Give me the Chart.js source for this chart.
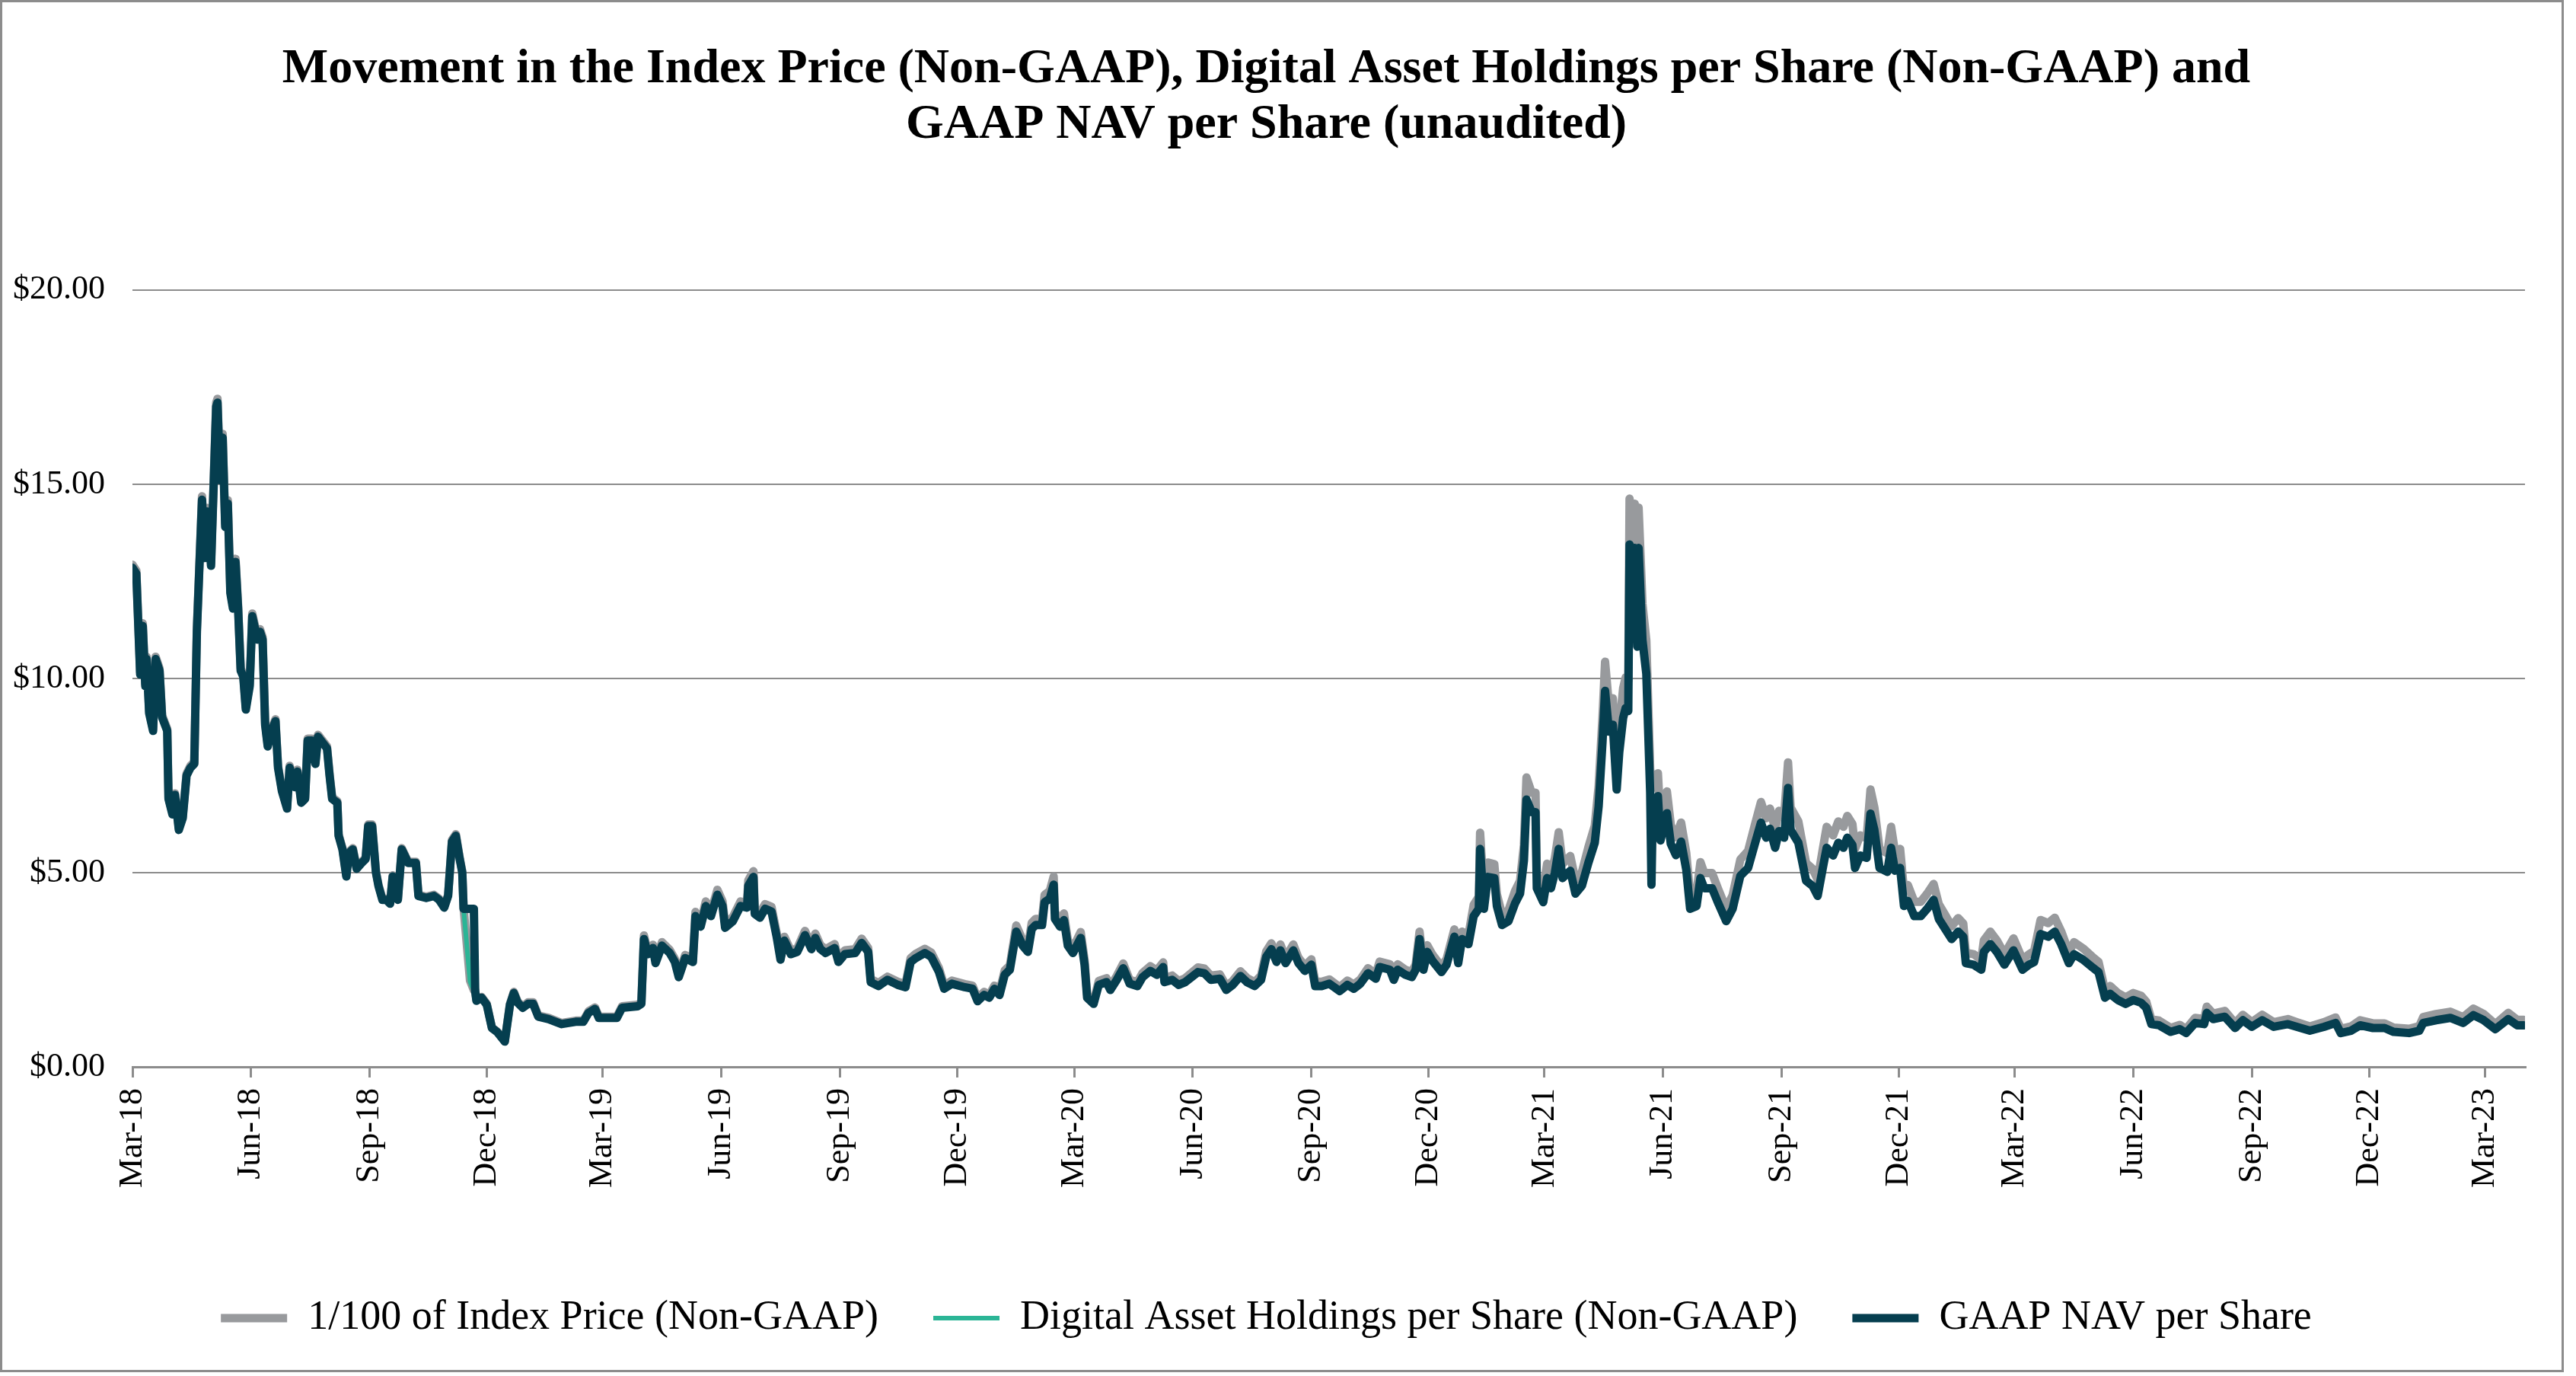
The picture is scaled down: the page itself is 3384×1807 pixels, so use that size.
<!DOCTYPE html>
<html lang="en">
<head>
<meta charset="utf-8">
<title>Movement in the Index Price, Digital Asset Holdings per Share and GAAP NAV per Share</title>
<script src="https://cdn.jsdelivr.net/npm/chart.js@4.4.1/dist/chart.umd.min.js"></script>
<style>
  html, body { margin: 0; padding: 0; background: #fff; }
  #contenedor { position: relative; width: 3384px; height: 1807px; }
  #marco {
    position: absolute; left: 0; top: 0;
    width: 3368px; height: 1802px; box-sizing: border-box;
    border: 3px solid #8c8c8c; pointer-events: none;
  }
</style>
</head>
<body>
<div id="contenedor">
  <canvas id="graficoNav"></canvas>
  <div id="marco"></div>
</div>
<script>
// Etiquetas del eje X (una por trimestre)
const etiquetasTrimestre = ['Mar-18', 'Jun-18', 'Sep-18', 'Dec-18', 'Mar-19', 'Jun-19', 'Sep-19', 'Dec-19',
    'Mar-20', 'Jun-20', 'Sep-20', 'Dec-20', 'Mar-21', 'Jun-21', 'Sep-21', 'Dec-21',
    'Mar-22', 'Jun-22', 'Sep-22', 'Dec-22', 'Mar-23'];
const fechasTrimestre = ['2018-03-01', '2018-06-01', '2018-09-01', '2018-12-01', '2019-03-01', '2019-06-01',
    '2019-09-01', '2019-12-01', '2020-03-01', '2020-06-01', '2020-09-01', '2020-12-01', '2021-03-01',
    '2021-06-01', '2021-09-01', '2021-12-01', '2022-03-01', '2022-06-01', '2022-09-01', '2022-12-01', '2023-03-01'];
const fechaFinEje = '2023-04-01';

// Fechas de las observaciones
const fechas = [
    // 2018
    '2018-03-01','2018-03-04','2018-03-07','2018-03-09','2018-03-11','2018-03-12','2018-03-14','2018-03-17','2018-03-19','2018-03-22',
    '2018-03-24','2018-03-28','2018-03-29','2018-04-01','2018-04-03','2018-04-06','2018-04-09','2018-04-12','2018-04-15','2018-04-18',
    '2018-04-20','2018-04-24','2018-04-26','2018-04-28','2018-05-01','2018-05-05','2018-05-06','2018-05-08','2018-05-10','2018-05-12',
    '2018-05-14','2018-05-16','2018-05-18','2018-05-20','2018-05-22','2018-05-24','2018-05-26','2018-05-28','2018-05-31','2018-06-02',
    '2018-06-06','2018-06-08','2018-06-10','2018-06-12','2018-06-14','2018-06-17','2018-06-20','2018-06-22','2018-06-25','2018-06-29',
    '2018-07-01','2018-07-05','2018-07-07','2018-07-10','2018-07-13','2018-07-15','2018-07-18','2018-07-21','2018-07-23','2018-07-30',
    '2018-08-01','2018-08-03','2018-08-07','2018-08-08','2018-08-11','2018-08-14','2018-08-16','2018-08-19','2018-08-22','2018-08-26',
    '2018-08-29','2018-08-31','2018-09-03','2018-09-06','2018-09-08','2018-09-11','2018-09-14','2018-09-17','2018-09-19','2018-09-23',
    '2018-09-26','2018-10-01','2018-10-07','2018-10-09','2018-10-15','2018-10-21','2018-10-25','2018-10-29','2018-11-01','2018-11-04',
    '2018-11-07','2018-11-10','2018-11-12','2018-11-13','2018-11-18','2018-11-21','2018-11-22','2018-11-23','2018-11-27','2018-12-01',
    '2018-12-05','2018-12-09','2018-12-15','2018-12-19','2018-12-22','2018-12-25','2018-12-29',
    // 2019
    '2019-01-02','2019-01-06','2019-01-10','2019-01-18','2019-01-28','2019-02-08','2019-02-14','2019-02-18','2019-02-23','2019-02-26',
    '2019-03-12','2019-03-16','2019-03-28','2019-03-31','2019-04-02','2019-04-05','2019-04-09','2019-04-11','2019-04-16','2019-04-22',
    '2019-04-26','2019-04-29','2019-05-04','2019-05-10','2019-05-12','2019-05-16','2019-05-20','2019-05-24','2019-05-29','2019-06-02',
    '2019-06-04','2019-06-10','2019-06-16','2019-06-21','2019-06-22','2019-06-26','2019-06-27','2019-07-01','2019-07-05','2019-07-10',
    '2019-07-14','2019-07-17','2019-07-20','2019-07-25','2019-07-30','2019-08-05','2019-08-10','2019-08-13','2019-08-17','2019-08-21',
    '2019-08-28','2019-08-31','2019-09-05','2019-09-13','2019-09-18','2019-09-23','2019-09-25','2019-10-01','2019-10-08','2019-10-16',
    '2019-10-22','2019-10-26','2019-10-30','2019-11-06','2019-11-11','2019-11-17','2019-11-21','2019-11-27','2019-12-07','2019-12-13',
    '2019-12-17','2019-12-22','2019-12-26','2019-12-30',
    // 2020
    '2020-01-03','2020-01-07','2020-01-11','2020-01-16','2020-01-21','2020-01-25','2020-01-28','2020-01-31','2020-02-05','2020-02-07',
    '2020-02-11','2020-02-14','2020-02-15','2020-02-19','2020-02-22','2020-02-25','2020-02-29','2020-03-06','2020-03-09','2020-03-11',
    '2020-03-16','2020-03-20','2020-03-26','2020-03-29','2020-04-03','2020-04-08','2020-04-13','2020-04-19','2020-04-23','2020-04-29',
    '2020-05-04','2020-05-09','2020-05-10','2020-05-16','2020-05-21','2020-05-26','2020-06-05','2020-06-10','2020-06-15','2020-06-22',
    '2020-06-27','2020-07-02','2020-07-08','2020-07-13','2020-07-19','2020-07-24','2020-07-28','2020-08-01','2020-08-05','2020-08-08',
    '2020-08-12','2020-08-18','2020-08-22','2020-08-27','2020-09-01','2020-09-04','2020-09-09','2020-09-15','2020-09-23','2020-09-29',
    '2020-10-04','2020-10-09','2020-10-15','2020-10-21','2020-10-24','2020-11-01','2020-11-04','2020-11-07','2020-11-13','2020-11-18',
    '2020-11-21','2020-11-24','2020-11-27','2020-11-30','2020-12-04','2020-12-11','2020-12-15','2020-12-21','2020-12-24','2020-12-27',
    // 2021
    '2021-01-01','2021-01-05','2021-01-09','2021-01-10','2021-01-13','2021-01-16','2021-01-21','2021-01-23','2021-01-27','2021-02-01',
    '2021-02-06','2021-02-10','2021-02-13','2021-02-15','2021-02-19','2021-02-22','2021-02-23','2021-02-28','2021-03-03','2021-03-06',
    '2021-03-09','2021-03-12','2021-03-15','2021-03-21','2021-03-25','2021-03-30','2021-04-04','2021-04-09','2021-04-12','2021-04-15',
    '2021-04-17','2021-04-20','2021-04-23','2021-04-26','2021-04-28','2021-05-01','2021-05-03','2021-05-05','2021-05-06','2021-05-09',
    '2021-05-10','2021-05-12','2021-05-13','2021-05-15','2021-05-16','2021-05-19','2021-05-22','2021-05-23','2021-05-24','2021-05-28',
    '2021-05-30','2021-06-04','2021-06-07','2021-06-11','2021-06-15','2021-06-19','2021-06-22','2021-06-27','2021-06-30','2021-07-03',
    '2021-07-09','2021-07-14','2021-07-20','2021-07-25','2021-07-31','2021-08-06','2021-08-11','2021-08-16','2021-08-20','2021-08-23',
    '2021-08-27','2021-08-30','2021-09-03','2021-09-06','2021-09-08','2021-09-14','2021-09-20','2021-09-25','2021-09-29','2021-10-03',
    '2021-10-06','2021-10-11','2021-10-15','2021-10-19','2021-10-22','2021-10-26','2021-10-28','2021-11-01','2021-11-06','2021-11-09',
    '2021-11-12','2021-11-16','2021-11-22','2021-11-25','2021-11-28','2021-12-02','2021-12-05','2021-12-08','2021-12-13','2021-12-18',
    '2021-12-23','2021-12-28',
    // 2022 - 2023
    '2022-01-01','2022-01-06','2022-01-11','2022-01-16','2022-01-20','2022-01-22','2022-01-28','2022-02-03','2022-02-05','2022-02-10',
    '2022-02-15','2022-02-21','2022-02-28','2022-03-07','2022-03-12','2022-03-16','2022-03-21','2022-03-27','2022-04-01','2022-04-06',
    '2022-04-12','2022-04-16','2022-04-23','2022-04-30','2022-05-05','2022-05-10','2022-05-14','2022-05-20','2022-05-26','2022-06-01',
    '2022-06-07','2022-06-11','2022-06-15','2022-06-21','2022-06-30','2022-07-07','2022-07-12','2022-07-19','2022-07-26','2022-07-28',
    '2022-08-02','2022-08-11','2022-08-19','2022-08-25','2022-09-01','2022-09-09','2022-09-18','2022-09-29','2022-10-06','2022-10-16',
    '2022-10-27','2022-11-05','2022-11-09','2022-11-17','2022-11-24','2022-12-04','2022-12-13','2022-12-20',
    '2023-01-01','2023-01-09','2023-01-12','2023-01-22','2023-02-02','2023-02-12','2023-02-20','2023-02-28','2023-03-09','2023-03-19',
    '2023-03-26','2023-03-31'
];

// 1/100 del precio del índice (Non-GAAP)
const indicePrecio100 = [
    // 2018
    12.93,12.78,10.16,11.42,9.86,10.56,9.15,8.7,10.56,10.26,
    9.05,8.7,6.94,6.54,7.04,6.14,6.44,7.55,7.75,7.85,
    11.27,14.69,13.18,14.39,12.98,17.1,17.2,15.19,16.3,13.98,
    14.59,12.27,11.87,13.08,11.87,10.26,10.11,9.26,9.86,11.67,
    11.07,11.27,11.07,8.85,8.3,8.7,8.95,7.75,7.14,6.69,
    7.75,7.24,7.65,6.84,6.94,8.45,8.45,7.85,8.55,8.25,
    7.55,6.94,6.84,5.99,5.63,4.93,5.53,5.63,5.13,5.28,
    5.38,6.24,6.24,5.03,4.68,4.33,4.33,4.23,4.93,4.33,
    5.63,5.28,5.28,4.43,4.38,4.43,4.33,4.12,4.43,5.84,
    5.99,5.38,5.03,4.1,2.22,1.97,1.97,1.72,1.8,1.62,
    1.01,0.91,0.66,1.62,1.93,1.68,1.55,
    // 2019
    1.66,1.66,1.32,1.26,1.13,1.19,1.19,1.43,1.53,1.29,
    1.29,1.56,1.6,1.66,3.38,2.98,3.14,2.74,3.21,3.01,
    2.78,2.38,2.88,2.78,3.99,3.71,4.26,3.99,4.56,4.26,
    3.68,3.86,4.26,4.22,4.8,5.04,4.06,3.96,4.19,4.12,
    3.45,2.84,3.35,2.99,3.05,3.5,3.13,3.43,3.13,3.03,
    3.16,2.79,3.0,3.03,3.3,3.06,2.26,2.16,2.32,2.19,
    2.13,2.8,2.91,3.04,2.94,2.54,2.09,2.22,2.13,2.09,
    1.76,1.93,1.85,2.09,
    // 2020
    1.93,2.48,2.61,3.64,3.26,3.09,3.71,3.81,3.81,4.43,
    4.53,4.9,3.98,3.77,3.95,3.26,3.06,3.47,2.75,1.86,
    1.69,2.21,2.28,2.07,2.34,2.66,2.24,2.18,2.42,2.59,
    2.48,2.69,2.28,2.35,2.21,2.28,2.56,2.53,2.35,2.38,
    2.08,2.21,2.46,2.29,2.18,2.35,2.97,3.18,2.84,3.15,
    2.81,3.15,2.81,2.6,2.77,2.19,2.19,2.25,2.05,2.22,
    2.12,2.25,2.54,2.39,2.71,2.64,2.36,2.64,2.5,2.44,
    2.64,3.48,2.64,3.13,2.89,2.58,2.78,3.54,2.82,3.48,
    // 2021
    3.4,4.17,4.38,6.03,4.38,5.26,5.22,4.45,3.92,4.03,
    4.52,4.79,5.71,7.45,7.06,7.06,4.95,4.56,5.23,4.95,
    5.37,6.04,5.23,5.43,4.8,5.01,5.65,6.21,7.23,9.02,
    10.43,9.29,9.49,7.69,8.73,9.75,10.03,9.94,14.63,13.26,
    14.5,11.74,14.4,12.78,11.92,10.98,7.66,7.3,7.18,7.56,
    6.33,7.09,6.23,5.91,6.29,5.51,4.42,4.49,5.27,4.99,
    4.99,4.56,4.07,4.42,5.34,5.56,6.2,6.82,6.4,6.65,
    6.12,6.59,6.46,7.84,6.68,6.32,5.25,5.1,4.82,5.61,
    6.18,5.96,6.32,6.18,6.46,6.25,5.61,5.96,5.89,7.14,
    6.68,5.61,5.5,6.18,5.53,5.61,4.53,4.68,4.25,4.25,
    4.46,4.71,
    // 2022 - 2023
    4.19,3.91,3.62,3.83,3.69,2.94,2.9,2.76,3.26,3.48,
    3.26,2.9,3.31,2.76,2.9,2.98,3.78,3.7,3.84,3.49,
    2.95,3.21,3.05,2.84,2.7,1.97,2.08,1.9,1.79,1.9,
    1.83,1.68,1.22,1.19,1.0,1.08,0.97,1.26,1.23,1.55,
    1.37,1.44,1.12,1.34,1.15,1.34,1.15,1.23,1.15,1.04,
    1.15,1.27,0.98,1.04,1.2,1.12,1.12,1.01,
    0.98,1.05,1.28,1.36,1.42,1.28,1.5,1.36,1.1,1.39,
    1.21,1.21
];

// Activos digitales por acción (Non-GAAP)
const activosPorAccion = [
    // 2018
    12.85,12.7,10.1,11.35,9.8,10.5,9.1,8.65,10.5,10.2,
    9.0,8.65,6.9,6.5,7.0,6.1,6.4,7.5,7.7,7.8,
    11.2,14.6,13.1,14.3,12.9,17.0,17.1,15.1,16.2,13.9,
    14.5,12.2,11.8,13.0,11.8,10.2,10.05,9.2,9.8,11.6,
    11.0,11.2,11.0,8.8,8.25,8.65,8.9,7.7,7.1,6.65,
    7.7,7.2,7.6,6.8,6.9,8.4,8.4,7.8,8.5,8.2,
    7.5,6.9,6.8,5.95,5.6,4.9,5.5,5.6,5.1,5.25,
    5.35,6.2,6.2,5.0,4.65,4.3,4.3,4.2,4.9,4.3,
    5.6,5.25,5.25,4.4,4.35,4.4,4.3,4.1,4.4,5.8,
    5.95,5.35,5.0,4.07,2.2,1.95,1.95,1.7,1.78,1.6,
    1.0,0.9,0.65,1.6,1.9,1.65,1.52,
    // 2019
    1.62,1.62,1.29,1.23,1.1,1.16,1.16,1.39,1.49,1.26,
    1.26,1.52,1.56,1.62,3.29,2.9,3.06,2.67,3.12,2.93,
    2.7,2.31,2.8,2.7,3.88,3.61,4.14,3.88,4.43,4.14,
    3.58,3.75,4.14,4.1,4.66,4.89,3.94,3.84,4.07,4.0,
    3.35,2.76,3.25,2.9,2.96,3.39,3.03,3.32,3.03,2.93,
    3.06,2.7,2.9,2.93,3.19,2.96,2.18,2.08,2.24,2.11,
    2.05,2.7,2.8,2.93,2.83,2.44,2.01,2.14,2.05,2.01,
    1.69,1.85,1.78,2.01,
    // 2020
    1.85,2.37,2.5,3.48,3.12,2.96,3.55,3.65,3.65,4.24,
    4.33,4.69,3.81,3.61,3.78,3.12,2.93,3.32,2.63,1.78,
    1.62,2.11,2.18,1.98,2.24,2.54,2.14,2.08,2.31,2.47,
    2.37,2.57,2.18,2.24,2.11,2.18,2.44,2.41,2.24,2.27,
    1.98,2.11,2.34,2.18,2.08,2.24,2.83,3.03,2.7,3.0,
    2.67,3.0,2.67,2.47,2.63,2.08,2.08,2.14,1.95,2.11,
    2.01,2.14,2.41,2.27,2.57,2.5,2.24,2.5,2.37,2.31,
    2.5,3.29,2.5,2.96,2.73,2.44,2.63,3.35,2.67,3.29,
    // 2021
    3.16,3.88,4.07,5.61,4.07,4.89,4.86,4.14,3.65,3.75,
    4.2,4.46,5.31,6.88,6.56,6.56,4.6,4.24,4.86,4.6,
    4.99,5.61,4.86,5.05,4.46,4.66,5.25,5.77,6.71,8.37,
    9.68,8.63,8.81,7.14,8.1,8.98,9.24,9.16,13.45,12.22,
    13.36,10.82,13.36,11.78,10.99,10.12,7.06,4.69,6.62,6.97,
    5.83,6.53,5.74,5.45,5.8,5.08,4.07,4.14,4.86,4.6,
    4.6,4.2,3.75,4.07,4.92,5.12,5.71,6.29,5.9,6.13,
    5.64,6.07,5.9,7.18,6.1,5.77,4.79,4.66,4.4,5.12,
    5.64,5.44,5.77,5.64,5.9,5.71,5.12,5.44,5.38,6.52,
    6.1,5.12,5.02,5.64,5.05,5.12,4.14,4.27,3.88,3.88,
    4.07,4.3,
    // 2022 - 2023
    3.81,3.55,3.29,3.48,3.35,2.67,2.63,2.5,2.96,3.16,
    2.96,2.63,3.0,2.5,2.63,2.7,3.42,3.35,3.48,3.16,
    2.67,2.9,2.76,2.57,2.44,1.78,1.88,1.72,1.62,1.72,
    1.65,1.52,1.1,1.07,0.9,0.97,0.87,1.13,1.1,1.39,
    1.23,1.29,1.0,1.2,1.03,1.2,1.03,1.1,1.03,0.93,
    1.03,1.13,0.87,0.93,1.07,1.0,1.0,0.9,
    0.87,0.93,1.13,1.2,1.26,1.13,1.33,1.2,0.97,1.23,
    1.07,1.07
];

// GAAP NAV por acción
const navPorAccion = [
    // 2018
    12.85,12.7,10.1,11.35,9.8,10.5,9.1,8.65,10.5,10.2,
    9.0,8.65,6.9,6.5,7.0,6.1,6.4,7.5,7.7,7.8,
    11.2,14.6,13.1,14.3,12.9,17.0,17.1,15.1,16.2,13.9,
    14.5,12.2,11.8,13.0,11.8,10.2,10.05,9.2,9.8,11.6,
    11.0,11.2,11.0,8.8,8.25,8.65,8.9,7.7,7.1,6.65,
    7.7,7.2,7.6,6.8,6.9,8.4,8.4,7.8,8.5,8.2,
    7.5,6.9,6.8,5.95,5.6,4.9,5.5,5.6,5.1,5.25,
    5.35,6.2,6.2,5.0,4.65,4.3,4.3,4.2,4.9,4.3,
    5.6,5.25,5.25,4.4,4.35,4.4,4.3,4.1,4.4,5.8,
    5.95,5.35,5.0,4.07,4.07,4.07,1.95,1.7,1.78,1.6,
    1.0,0.9,0.65,1.6,1.9,1.65,1.52,
    // 2019
    1.62,1.62,1.29,1.23,1.1,1.16,1.16,1.39,1.49,1.26,
    1.26,1.52,1.56,1.62,3.29,2.9,3.06,2.67,3.12,2.93,
    2.7,2.31,2.8,2.7,3.88,3.61,4.14,3.88,4.43,4.14,
    3.58,3.75,4.14,4.1,4.66,4.89,3.94,3.84,4.07,4.0,
    3.35,2.76,3.25,2.9,2.96,3.39,3.03,3.32,3.03,2.93,
    3.06,2.7,2.9,2.93,3.19,2.96,2.18,2.08,2.24,2.11,
    2.05,2.7,2.8,2.93,2.83,2.44,2.01,2.14,2.05,2.01,
    1.69,1.85,1.78,2.01,
    // 2020
    1.85,2.37,2.5,3.48,3.12,2.96,3.55,3.65,3.65,4.24,
    4.33,4.69,3.81,3.61,3.78,3.12,2.93,3.32,2.63,1.78,
    1.62,2.11,2.18,1.98,2.24,2.54,2.14,2.08,2.31,2.47,
    2.37,2.57,2.18,2.24,2.11,2.18,2.44,2.41,2.24,2.27,
    1.98,2.11,2.34,2.18,2.08,2.24,2.83,3.03,2.7,3.0,
    2.67,3.0,2.67,2.47,2.63,2.08,2.08,2.14,1.95,2.11,
    2.01,2.14,2.41,2.27,2.57,2.5,2.24,2.5,2.37,2.31,
    2.5,3.29,2.5,2.96,2.73,2.44,2.63,3.35,2.67,3.29,
    // 2021
    3.16,3.88,4.07,5.61,4.07,4.89,4.86,4.14,3.65,3.75,
    4.2,4.46,5.31,6.88,6.56,6.56,4.6,4.24,4.86,4.6,
    4.99,5.61,4.86,5.05,4.46,4.66,5.25,5.77,6.71,8.37,
    9.68,8.63,8.81,7.14,8.1,8.98,9.24,9.16,13.45,12.22,
    13.36,10.82,13.36,11.78,10.99,10.12,7.06,4.69,6.62,6.97,
    5.83,6.53,5.74,5.45,5.8,5.08,4.07,4.14,4.86,4.6,
    4.6,4.2,3.75,4.07,4.92,5.12,5.71,6.29,5.9,6.13,
    5.64,6.07,5.9,7.18,6.1,5.77,4.79,4.66,4.4,5.12,
    5.64,5.44,5.77,5.64,5.9,5.71,5.12,5.44,5.38,6.52,
    6.1,5.12,5.02,5.64,5.05,5.12,4.14,4.27,3.88,3.88,
    4.07,4.3,
    // 2022 - 2023
    3.81,3.55,3.29,3.48,3.35,2.67,2.63,2.5,2.96,3.16,
    2.96,2.63,3.0,2.5,2.63,2.7,3.42,3.35,3.48,3.16,
    2.67,2.9,2.76,2.57,2.44,1.78,1.88,1.72,1.62,1.72,
    1.65,1.52,1.1,1.07,0.9,0.97,0.87,1.13,1.1,1.39,
    1.23,1.29,1.0,1.2,1.03,1.2,1.03,1.1,1.03,0.93,
    1.03,1.13,0.87,0.93,1.07,1.0,1.0,0.9,
    0.87,0.93,1.13,1.2,1.26,1.13,1.33,1.2,0.97,1.23,
    1.07,1.07
];

// Días transcurridos desde el inicio del eje
const inicioEje = Date.parse(fechasTrimestre[0]);
const dia = (fecha) => Math.round((Date.parse(fecha) - inicioEje) / 864e5);
const puntos = (serie) => fechas.map((f, i) => ({ x: dia(f), y: serie[i] }));

const fuente = "'Liberation Serif', 'Times New Roman', serif";
const gris = '#8c8c8c';

var ctx = document.getElementById('graficoNav');

var graficoNav = new Chart(ctx, {
    type: 'line',
    data: {
        datasets: [{
            label: '1/100 of Index Price (Non-GAAP)',
            data: puntos(indicePrecio100),
            borderColor: '#989a9d',
            backgroundColor: '#989a9d',
            borderWidth: 11,
            pointBorderWidth: 11,
            order: 3
        }, {
            label: 'Digital Asset Holdings per Share (Non-GAAP)',
            data: puntos(activosPorAccion),
            borderColor: '#2bb596',
            backgroundColor: '#2bb596',
            borderWidth: 6,
            pointBorderWidth: 6,
            order: 2
        }, {
            label: 'GAAP NAV per Share',
            data: puntos(navPorAccion),
            borderColor: '#053e4f',
            backgroundColor: '#053e4f',
            borderWidth: 11,
            pointBorderWidth: 11,
            order: 1
        }]
    },
    options: {
        responsive: true,
        maintainAspectRatio: false,
        animation: false,
        devicePixelRatio: 1,
        layout: { padding: { left: 10, right: 67, top: 0, bottom: 39 } },
        elements: {
            line: { tension: 0, borderCapStyle: 'round', borderJoinStyle: 'round' },
            point: { radius: 0, hoverRadius: 0, pointStyle: 'line' }
        },
        plugins: {
            title: {
                display: true,
                text: ['Movement in the Index Price (Non-GAAP), Digital Asset Holdings per Share (Non-GAAP) and',
                       'GAAP NAV per Share (unaudited)'],
                color: '#000',
                font: { family: fuente, size: 64, weight: 'bold', lineHeight: 1.14 },
                padding: { top: 55, bottom: 180 }
            },
            legend: {
                position: 'bottom',
                labels: {
                    usePointStyle: true,
                    pointStyle: 'line',
                    pointStyleWidth: 87,
                    boxHeight: 10,
                    padding: 72,
                    color: '#000',
                    font: { family: fuente, size: 54 },
                    sort: (a, b) => a.datasetIndex - b.datasetIndex
                }
            },
            tooltip: { enabled: false }
        },
        scales: {
            x: {
                type: 'linear',
                min: 0,
                max: dia(fechaFinEje),
                afterBuildTicks: (eje) => {
                    eje.ticks = fechasTrimestre.map(f => ({ value: dia(f) }));
                },
                afterFit: (eje) => { eje.height = 231; },
                ticks: {
                    autoSkip: false,
                    minRotation: 90,
                    maxRotation: 90,
                    padding: 14,
                    color: '#000',
                    font: { family: fuente, size: 44 },
                    callback: (valor, i) => etiquetasTrimestre[i]
                },
                grid: { drawOnChartArea: false, tickLength: 14, color: gris, lineWidth: 3 },
                border: { display: true, color: gris, width: 3 }
            },
            y: {
                min: 0,
                max: 20,
                afterFit: (eje) => { eje.width = 164; },
                ticks: {
                    stepSize: 5,
                    padding: 36,
                    color: '#000',
                    font: { family: fuente, size: 44 },
                    callback: (valor) => '$' + valor.toFixed(2)
                },
                grid: { color: gris, lineWidth: 2, drawTicks: false },
                border: { display: false }
            }
        }
    }
});
</script>
</body>
</html>
